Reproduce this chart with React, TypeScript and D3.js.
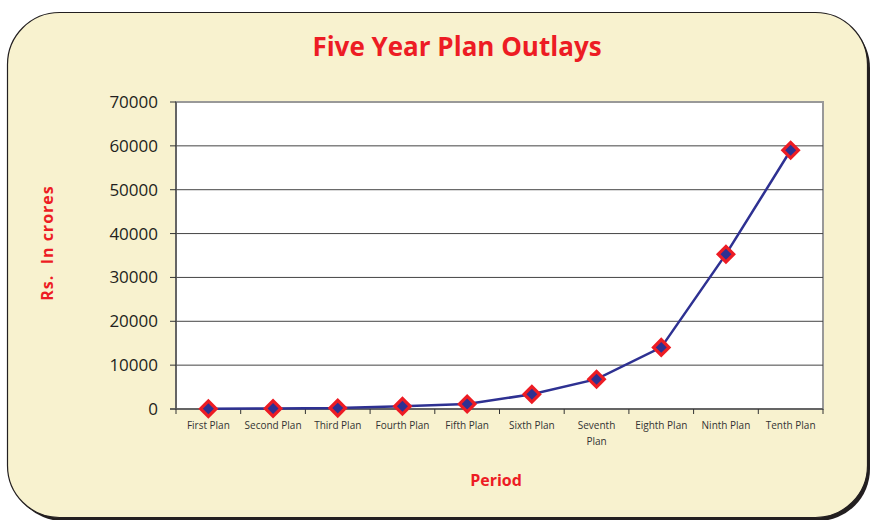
import { useEffect, useRef } from 'react';
import * as d3 from 'd3';

const plans = ['First Plan', 'Second Plan', 'Third Plan', 'Fourth Plan', 'Fifth Plan', 'Sixth Plan', 'Seventh Plan', 'Eighth Plan', 'Ninth Plan', 'Tenth Plan'];
const outlays = [60, 120, 200, 620, 1150, 3350, 6800, 14050, 35300, 59000];
const yTicks = [0, 10000, 20000, 30000, 40000, 50000, 60000, 70000];

const RED = '#ed1c24';
const BLUE = '#2e3192';

const App = () => {
  const ref = useRef<SVGSVGElement>(null);

  useEffect(() => {
    const svg = d3.select(ref.current);
    svg.selectAll('*').remove();

    const left = 176, right = 823, top = 102, bottom = 409;

    // frame with shadow
    svg.append('rect').attr('x', 11).attr('y', 16).attr('width', 859).attr('height', 505)
      .attr('rx', 52).attr('fill', '#231f20');
    svg.append('rect').attr('x', 7.5).attr('y', 12.5).attr('width', 860).attr('height', 505)
      .attr('rx', 52).attr('fill', '#f8f2cf').attr('stroke', '#231f20').attr('stroke-width', 1.2);

    const x = d3.scaleBand().domain(plans).range([left, right]);
    const y = d3.scaleLinear().domain([0, 70000]).range([bottom, top]);

    svg.append('rect').attr('x', left).attr('y', top).attr('width', right - left).attr('height', bottom - top)
      .attr('fill', '#fff').attr('stroke', '#999').attr('stroke-width', 2);

    // gridlines
    svg.append('g').selectAll('line').data(yTicks.filter((t) => t > 0 && t < 70000)).join('line')
      .attr('x1', left).attr('x2', right).attr('y1', (d) => y(d)).attr('y2', (d) => y(d))
      .attr('stroke', '#444').attr('stroke-width', 1);

    // y axis
    svg.append('line').attr('x1', left).attr('x2', left).attr('y1', top).attr('y2', bottom)
      .attr('stroke', '#555').attr('stroke-width', 1.5);
    svg.append('g').selectAll('line').data(yTicks).join('line')
      .attr('x1', left - 6).attr('x2', left).attr('y1', (d) => y(d)).attr('y2', (d) => y(d))
      .attr('stroke', '#333');
    svg.append('g').selectAll('text').data(yTicks).join('text')
      .attr('x', left - 18).attr('y', (d) => y(d)).attr('dy', '0.35em')
      .attr('text-anchor', 'end').attr('font-family', 'Open Sans').attr('font-size', 17)
      .attr('fill', '#231f20').text((d) => String(d));

    // x axis
    svg.append('line').attr('x1', left - 6).attr('x2', right).attr('y1', bottom).attr('y2', bottom)
      .attr('stroke', '#555').attr('stroke-width', 1.5);
    const bounds = plans.map((p) => x(p)!).concat([right]);
    svg.append('g').selectAll('line').data(bounds).join('line')
      .attr('x1', (d) => d).attr('x2', (d) => d).attr('y1', bottom).attr('y2', bottom + 5)
      .attr('stroke', '#333');
    const labels = svg.append('g').selectAll('text').data(plans).join('text')
      .attr('x', (d) => x(d)! + x.bandwidth() / 2).attr('y', bottom + 20)
      .attr('text-anchor', 'middle').attr('font-family', 'Open Sans').attr('font-size', 10)
      .attr('fill', '#333');
    labels.each(function (d) {
      const t = d3.select(this);
      const parts = d === 'Seventh Plan' ? ['Seventh', 'Plan'] : [d];
      parts.forEach((p, i) => {
        t.append('tspan').attr('x', x(d)! + x.bandwidth() / 2).attr('dy', i === 0 ? 0 : 16).text(p);
      });
    });

    // line
    const line = d3.line<number>().x((_, i) => x(plans[i])! + x.bandwidth() / 2).y((d) => y(d));
    svg.append('path').datum(outlays).attr('d', line).attr('fill', 'none')
      .attr('stroke', BLUE).attr('stroke-width', 2.5);

    // diamond markers
    const diamond = d3.symbol().type(d3.symbolSquare).size(120);
    svg.append('g').selectAll('path').data(outlays).join('path')
      .attr('d', diamond)
      .attr('transform', (d, i) => `translate(${x(plans[i])! + x.bandwidth() / 2},${y(d)}) rotate(45)`)
      .attr('fill', BLUE).attr('stroke', RED).attr('stroke-width', 3.2);

    // titles
    svg.append('text').attr('x', 457).attr('y', 56).attr('text-anchor', 'middle')
      .attr('font-family', 'Open Sans').attr('font-weight', 'bold').attr('font-size', 26)
      .attr('fill', RED).text('Five Year Plan Outlays');
    svg.append('text').attr('transform', `translate(53,${243}) rotate(-90)`).attr('text-anchor', 'middle')
      .attr('font-family', 'Open Sans').attr('font-weight', 'bold').attr('font-size', 16)
      .attr('letter-spacing', 1).attr('fill', RED).attr('xml:space', 'preserve').text('Rs.  In crores');
    svg.append('text').attr('x', 496).attr('y', 486).attr('text-anchor', 'middle')
      .attr('font-family', 'Open Sans').attr('font-weight', 'bold').attr('font-size', 16)
      .attr('fill', RED).text('Period');
  }, []);

  return <svg ref={ref} width={870} height={520} style={{ position: 'absolute', left: 0, top: 0 }} />;
};

export default App;
